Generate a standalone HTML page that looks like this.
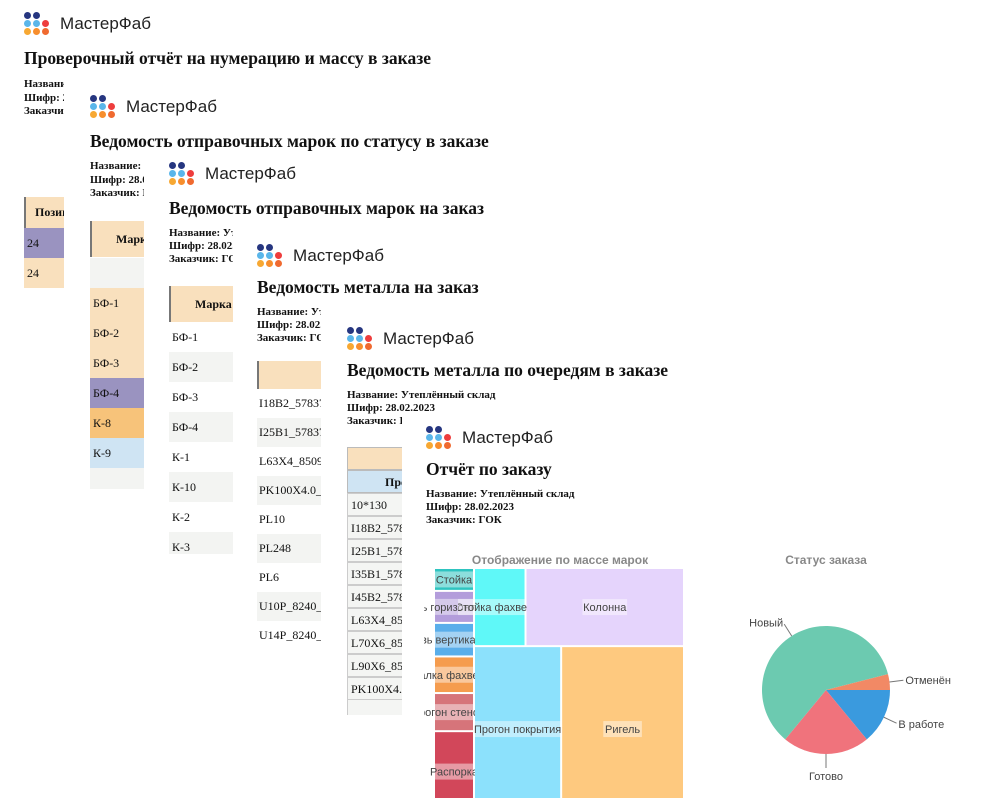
<!DOCTYPE html>
<html><head><meta charset="utf-8">
<style>
html,body{margin:0;padding:0;background:#fff;}
body{width:982px;height:798px;position:relative;overflow:hidden;font-family:"Liberation Serif","Noto Serif CJK SC",serif;color:#111;}
.panel{position:absolute;background:#fff;overflow:hidden;}
.logo{position:absolute;width:130px;height:24px;}
.dot{position:absolute;width:7px;height:7px;border-radius:50%;}
.logo-text{position:absolute;left:36px;top:2px;font-family:"Liberation Sans",sans-serif;font-size:17px;line-height:20px;color:#222;}
.title{position:absolute;font-weight:bold;font-size:17.5px;white-space:nowrap;}
.info{position:absolute;font-weight:bold;font-size:11px;line-height:13.5px;white-space:nowrap;}
.cell{position:absolute;font-size:12px;white-space:nowrap;box-sizing:border-box;overflow:hidden;}
.hdr{background:#f9e0bd;border-left:2px solid #777;font-weight:bold;}
</style></head>
<body>

<div class="panel" style="left:0;top:0;width:982px;height:798px;">
  <div class="logo" style="left:24px;top:12px;">
    <span class="dot" style="left:0;top:0;background:#263680"></span><span class="dot" style="left:9px;top:0;background:#263680"></span>
    <span class="dot" style="left:0;top:8px;background:#5ab6ea"></span><span class="dot" style="left:9px;top:8px;background:#5ab6ea"></span><span class="dot" style="left:18px;top:8px;background:#ee3d3d"></span>
    <span class="dot" style="left:0;top:16px;background:#f7a833"></span><span class="dot" style="left:9px;top:16px;background:#f78e2d"></span><span class="dot" style="left:18px;top:16px;background:#f06a30"></span>
    <span class="logo-text">МастерФаб</span>
  </div>
  <div class="title" style="left:24px;top:48px;">Проверочный отчёт на нумерацию и массу в заказе</div>
  <div class="info" style="left:24px;top:78px;">Название: Утеплённый склад<br>Шифр: 28.02.2023<br>Заказчик: ГОК</div>
  <div class="cell hdr" style="left:24px;top:197px;width:60px;height:31px;line-height:31px;padding-left:9px;">Позиция</div>
  <div class="cell" style="left:24px;top:228px;width:60px;height:30px;line-height:30px;padding-left:3px;background:#9a93c0;">24</div>
  <div class="cell" style="left:24px;top:258px;width:60px;height:30px;line-height:30px;padding-left:3px;background:#f9e0bd;">24</div>
</div>

<div class="panel" style="left:64px;top:78px;width:918px;height:720px;">
  <div class="logo" style="left:26px;top:17px;">
    <span class="dot" style="left:0;top:0;background:#263680"></span><span class="dot" style="left:9px;top:0;background:#263680"></span>
    <span class="dot" style="left:0;top:8px;background:#5ab6ea"></span><span class="dot" style="left:9px;top:8px;background:#5ab6ea"></span><span class="dot" style="left:18px;top:8px;background:#ee3d3d"></span>
    <span class="dot" style="left:0;top:16px;background:#f7a833"></span><span class="dot" style="left:9px;top:16px;background:#f78e2d"></span><span class="dot" style="left:18px;top:16px;background:#f06a30"></span>
    <span class="logo-text">МастерФаб</span>
  </div>
  <div class="title" style="left:26px;top:53px;">Ведомость отправочных марок по статусу в заказе</div>
  <div class="info" style="left:26px;top:82px;">Название: Утеплённый склад<br>Шифр: 28.02.2023<br>Заказчик: ГОК</div>
  <div class="cell hdr" style="left:26px;top:143px;width:80px;height:36px;line-height:36px;padding-left:24px;">Марка</div>
  <div class="cell" style="left:26px;top:180px;width:80px;height:30px;background:#f3f4f2;"></div>
  <div class="cell" style="left:26px;top:210px;width:80px;height:30px;line-height:30px;padding-left:3px;background:#f9e0bd;">БФ-1</div>
  <div class="cell" style="left:26px;top:240px;width:80px;height:30px;line-height:30px;padding-left:3px;background:#f9e0bd;">БФ-2</div>
  <div class="cell" style="left:26px;top:270px;width:80px;height:30px;line-height:30px;padding-left:3px;background:#f9e0bd;">БФ-3</div>
  <div class="cell" style="left:26px;top:300px;width:80px;height:30px;line-height:30px;padding-left:3px;background:#9a93c0;">БФ-4</div>
  <div class="cell" style="left:26px;top:330px;width:80px;height:30px;line-height:30px;padding-left:3px;background:#f7c37a;">К-8</div>
  <div class="cell" style="left:26px;top:360px;width:80px;height:30px;line-height:30px;padding-left:3px;background:#cfe4f3;">К-9</div>
  <div class="cell" style="left:26px;top:390px;width:80px;height:21px;background:#f3f4f2;"></div>
</div>

<div class="panel" style="left:144px;top:153px;width:838px;height:645px;">
  <div class="logo" style="left:25px;top:9px;">
    <span class="dot" style="left:0;top:0;background:#263680"></span><span class="dot" style="left:9px;top:0;background:#263680"></span>
    <span class="dot" style="left:0;top:8px;background:#5ab6ea"></span><span class="dot" style="left:9px;top:8px;background:#5ab6ea"></span><span class="dot" style="left:18px;top:8px;background:#ee3d3d"></span>
    <span class="dot" style="left:0;top:16px;background:#f7a833"></span><span class="dot" style="left:9px;top:16px;background:#f78e2d"></span><span class="dot" style="left:18px;top:16px;background:#f06a30"></span>
    <span class="logo-text">МастерФаб</span>
  </div>
  <div class="title" style="left:25px;top:45px;">Ведомость отправочных марок на заказ</div>
  <div class="info" style="left:25px;top:74px;line-height:13px;">Название: Утеплённый склад<br>Шифр: 28.02.2023<br>Заказчик: ГОК</div>
  <div class="cell hdr" style="left:25px;top:133px;width:80px;height:36px;line-height:36px;padding-left:24px;">Марка</div>
  <div class="cell" style="left:25px;top:169px;width:80px;height:30px;line-height:30px;padding-left:3px;">БФ-1</div>
  <div class="cell" style="left:25px;top:199px;width:80px;height:30px;line-height:30px;padding-left:3px;background:#f3f4f2;">БФ-2</div>
  <div class="cell" style="left:25px;top:229px;width:80px;height:30px;line-height:30px;padding-left:3px;">БФ-3</div>
  <div class="cell" style="left:25px;top:259px;width:80px;height:30px;line-height:30px;padding-left:3px;background:#f3f4f2;">БФ-4</div>
  <div class="cell" style="left:25px;top:289px;width:80px;height:30px;line-height:30px;padding-left:3px;">К-1</div>
  <div class="cell" style="left:25px;top:319px;width:80px;height:30px;line-height:30px;padding-left:3px;background:#f3f4f2;">К-10</div>
  <div class="cell" style="left:25px;top:349px;width:80px;height:30px;line-height:30px;padding-left:3px;">К-2</div>
  <div class="cell" style="left:25px;top:379px;width:80px;height:22px;line-height:30px;padding-left:3px;background:#f3f4f2;">К-3</div>
</div>

<div class="panel" style="left:233px;top:222px;width:749px;height:576px;">
  <div class="logo" style="left:24px;top:22px;">
    <span class="dot" style="left:0;top:0;background:#263680"></span><span class="dot" style="left:9px;top:0;background:#263680"></span>
    <span class="dot" style="left:0;top:8px;background:#5ab6ea"></span><span class="dot" style="left:9px;top:8px;background:#5ab6ea"></span><span class="dot" style="left:18px;top:8px;background:#ee3d3d"></span>
    <span class="dot" style="left:0;top:16px;background:#f7a833"></span><span class="dot" style="left:9px;top:16px;background:#f78e2d"></span><span class="dot" style="left:18px;top:16px;background:#f06a30"></span>
    <span class="logo-text">МастерФаб</span>
  </div>
  <div class="title" style="left:24px;top:55px;">Ведомость металла на заказ</div>
  <div class="info" style="left:24px;top:84px;line-height:13px;">Название: Утеплённый склад<br>Шифр: 28.02.2023<br>Заказчик: ГОК</div>
  <div class="cell hdr" style="left:24px;top:139px;width:90px;height:28px;"></div>
  <div class="cell" style="left:24px;top:167px;width:90px;height:29px;line-height:29px;padding-left:2px;">I18B2_57837_</div>
  <div class="cell" style="left:24px;top:196px;width:90px;height:29px;line-height:29px;padding-left:2px;background:#f3f4f2;">I25B1_57837_</div>
  <div class="cell" style="left:24px;top:225px;width:90px;height:29px;line-height:29px;padding-left:2px;">L63X4_8509_</div>
  <div class="cell" style="left:24px;top:254px;width:90px;height:29px;line-height:29px;padding-left:2px;background:#f3f4f2;">PK100X4.0_3</div>
  <div class="cell" style="left:24px;top:283px;width:90px;height:29px;line-height:29px;padding-left:2px;">PL10</div>
  <div class="cell" style="left:24px;top:312px;width:90px;height:29px;line-height:29px;padding-left:2px;background:#f3f4f2;">PL248</div>
  <div class="cell" style="left:24px;top:341px;width:90px;height:29px;line-height:29px;padding-left:2px;">PL6</div>
  <div class="cell" style="left:24px;top:370px;width:90px;height:29px;line-height:29px;padding-left:2px;background:#f3f4f2;">U10P_8240_9</div>
  <div class="cell" style="left:24px;top:399px;width:90px;height:29px;line-height:29px;padding-left:2px;">U14P_8240_9</div>
</div>

<div class="panel" style="left:321px;top:300px;width:661px;height:498px;">
  <div class="logo" style="left:26px;top:27px;">
    <span class="dot" style="left:0;top:0;background:#263680"></span><span class="dot" style="left:9px;top:0;background:#263680"></span>
    <span class="dot" style="left:0;top:8px;background:#5ab6ea"></span><span class="dot" style="left:9px;top:8px;background:#5ab6ea"></span><span class="dot" style="left:18px;top:8px;background:#ee3d3d"></span>
    <span class="dot" style="left:0;top:16px;background:#f7a833"></span><span class="dot" style="left:9px;top:16px;background:#f78e2d"></span><span class="dot" style="left:18px;top:16px;background:#f06a30"></span>
    <span class="logo-text">МастерФаб</span>
  </div>
  <div class="title" style="left:26px;top:60px;">Ведомость металла по очередям в заказе</div>
  <div class="info" style="left:26px;top:89px;line-height:13px;">Название: Утеплённый склад<br>Шифр: 28.02.2023<br>Заказчик: ГОК</div>
  <div class="cell" style="left:26px;top:147px;width:90px;height:23px;background:#f9e0bd;border:1px solid #bbb;"></div>
  <div class="cell" style="left:26px;top:170px;width:90px;height:23px;line-height:22px;padding-left:37px;background:#cfe4f3;border:1px solid #bbb;font-weight:bold;">Профиль</div>
  <div class="cell" style="left:26px;top:193px;width:90px;height:23px;line-height:22px;padding-left:3px;background:#f4f5f3;border:1px solid #ccc;">10*130</div>
  <div class="cell" style="left:26px;top:216px;width:90px;height:23px;line-height:22px;padding-left:3px;background:#f4f5f3;border:1px solid #ccc;">I18B2_57837</div>
  <div class="cell" style="left:26px;top:239px;width:90px;height:23px;line-height:22px;padding-left:3px;background:#f4f5f3;border:1px solid #ccc;">I25B1_57837</div>
  <div class="cell" style="left:26px;top:262px;width:90px;height:23px;line-height:22px;padding-left:3px;background:#f4f5f3;border:1px solid #ccc;">I35B1_57837</div>
  <div class="cell" style="left:26px;top:285px;width:90px;height:23px;line-height:22px;padding-left:3px;background:#f4f5f3;border:1px solid #ccc;">I45B2_57837</div>
  <div class="cell" style="left:26px;top:308px;width:90px;height:23px;line-height:22px;padding-left:3px;background:#f4f5f3;border:1px solid #ccc;">L63X4_8509</div>
  <div class="cell" style="left:26px;top:331px;width:90px;height:23px;line-height:22px;padding-left:3px;background:#f4f5f3;border:1px solid #ccc;">L70X6_8509</div>
  <div class="cell" style="left:26px;top:354px;width:90px;height:23px;line-height:22px;padding-left:3px;background:#f4f5f3;border:1px solid #ccc;">L90X6_8509</div>
  <div class="cell" style="left:26px;top:377px;width:90px;height:23px;line-height:22px;padding-left:3px;background:#f4f5f3;border:1px solid #ccc;">PK100X4.0_3</div>
  <div class="cell" style="left:26px;top:400px;width:90px;height:15px;background:#f4f5f3;border-left:1px solid #ccc;"></div>
</div>

<div class="panel" style="left:402px;top:415px;width:580px;height:383px;overflow:visible;">
  <div class="logo" style="left:24px;top:11px;">
    <span class="dot" style="left:0;top:0;background:#263680"></span><span class="dot" style="left:9px;top:0;background:#263680"></span>
    <span class="dot" style="left:0;top:8px;background:#5ab6ea"></span><span class="dot" style="left:9px;top:8px;background:#5ab6ea"></span><span class="dot" style="left:18px;top:8px;background:#ee3d3d"></span>
    <span class="dot" style="left:0;top:16px;background:#f7a833"></span><span class="dot" style="left:9px;top:16px;background:#f78e2d"></span><span class="dot" style="left:18px;top:16px;background:#f06a30"></span>
    <span class="logo-text">МастерФаб</span>
  </div>
  <div class="title" style="left:24px;top:44px;">Отчёт по заказу</div>
  <div class="info" style="left:24px;top:73px;line-height:13px;">Название: Утеплённый склад<br>Шифр: 28.02.2023<br>Заказчик: ГОК</div>
  <svg id="charts" width="982" height="798" style="position:absolute;left:-402px;top:-415px;" xmlns="http://www.w3.org/2000/svg" font-family="Liberation Sans, sans-serif">
    <text x="560" y="564" text-anchor="middle" font-size="12" font-weight="bold" fill="#888">Отображение по массе марок</text>
    <text x="826" y="564" text-anchor="middle" font-size="12" font-weight="bold" fill="#888">Статус заказа</text>
    <g id="tm"></g>
    <g id="pie"></g>
  </svg>
</div>

<script>
// Treemap data
const tmLeftLabels = ["Стойка","Связь горизонтальная","Связь вертикальная","Балка фахверка","Прогон стеновой","Распорка"];
const tmLeftValues = [15, 21, 22, 24, 25, 53];
const tmLeftColors = ["#2ec4c0","#b39ddb","#5aaeea","#f59c4e","#d6747a","#d2475a"];
const tmTopLabels = ["Стойка фахверка","Колонна"];
const tmTopValues = [66, 203];
const tmTopColors = ["#5ff8f8","#e5d4fc"];
const tmBotLabels = ["Прогон покрытия","Ригель"];
const tmBotValues = [237, 334];
const tmBotColors = ["#8ce1fc","#fec97f"];
// Pie data
const pieLabels = ["В работе","Готово","Новый","Отменён"];
const pieValues = [14, 22, 60, 4];
const pieColors = ["#3a9ade","#f0737c","#6ccab0","#f28965"];

const NS = "http://www.w3.org/2000/svg";
const tm = document.getElementById("tm");
const sum = a => a.reduce((s,v)=>s+v,0);
const X0=434, X1=684, Y0=568, Y1=812;
let clipId=0;

function cellRect(x,y,w,h,color,label,clipL,clipR){
  const r=document.createElementNS(NS,"rect");
  r.setAttribute("x",x+1);r.setAttribute("y",y+1);
  r.setAttribute("width",Math.max(0,w-2));r.setAttribute("height",Math.max(0,h-2));
  r.setAttribute("fill",color);
  
  
  tm.appendChild(r);
  const cy=Math.min(y+h/2, (y+Math.min(y+h,798))/2+ (y+h>798?8:0));
  const cp=document.createElementNS(NS,"clipPath");
  cp.setAttribute("id","c"+(++clipId));
  const cr=document.createElementNS(NS,"rect");
  cr.setAttribute("x",clipL);cr.setAttribute("y",y);cr.setAttribute("width",clipR-clipL);cr.setAttribute("height",h);
  cp.appendChild(cr);tm.appendChild(cp);
  const g=document.createElementNS(NS,"g");
  g.setAttribute("clip-path","url(#c"+clipId+")");
  const t=document.createElementNS(NS,"text");
  t.setAttribute("x",x+w/2);t.setAttribute("y",cy+4);
  t.setAttribute("text-anchor","middle");t.setAttribute("font-size","11");t.setAttribute("fill","#444");
  t.textContent=label;
  
  
  const tw=label.length*6.1;
  const bg=document.createElementNS(NS,"rect");
  bg.setAttribute("x",x+w/2-tw/2-1);bg.setAttribute("y",cy-8);bg.setAttribute("width",tw+2);bg.setAttribute("height",16);
  bg.setAttribute("fill","#fff");bg.setAttribute("opacity","0.45");
  g.appendChild(bg);g.appendChild(t);tm.appendChild(g);
}

const total = sum(tmLeftValues)+sum(tmTopValues)+sum(tmBotValues);
const W=X1-X0, H=Y1-Y0;
const leftW = W*sum(tmLeftValues)/total;
let yy=Y0;
tmLeftValues.forEach((v,i)=>{
  const h=H*v/sum(tmLeftValues);
  cellRect(X0,yy,leftW,h,tmLeftColors[i],tmLeftLabels[i],X0-10,X0+leftW+2);
  yy+=h;
});
const restW=W-leftW, rx=X0+leftW;
const restTotal=sum(tmTopValues)+sum(tmBotValues);
const topH=H*sum(tmTopValues)/restTotal;
let xx=rx;
tmTopValues.forEach((v,i)=>{
  const w=restW*v/sum(tmTopValues);
  cellRect(xx,Y0,w,topH,tmTopColors[i],tmTopLabels[i],i===0?xx-16:xx,xx+w+1);
  xx+=w;
});
xx=rx;
tmBotValues.forEach((v,i)=>{
  const w=restW*v/sum(tmBotValues);
  cellRect(xx,Y0+topH,w,H-topH,tmBotColors[i],tmBotLabels[i],xx,xx+w);
  xx+=w;
});

// Pie
const pie=document.getElementById("pie");
const cx=826, cy=690, R=64;
const pTot=sum(pieValues);
let a=0;
pieValues.forEach((v,i)=>{
  const a1=a+2*Math.PI*v/pTot;
  const x0=cx+R*Math.cos(a), y0=cy+R*Math.sin(a);
  const x1=cx+R*Math.cos(a1), y1=cy+R*Math.sin(a1);
  const p=document.createElementNS(NS,"path");
  p.setAttribute("d",`M${cx},${cy} L${x0},${y0} A${R},${R} 0 ${a1-a>Math.PI?1:0} 1 ${x1},${y1} Z`);
  p.setAttribute("fill",pieColors[i]);
  
  
  pie.appendChild(p);
  const m=(a+a1)/2, c=Math.cos(m), s=Math.sin(m);
  const l=document.createElementNS(NS,"line");
  l.setAttribute("x1",cx+R*c);l.setAttribute("y1",cy+R*s);
  l.setAttribute("x2",cx+(R+14)*c);l.setAttribute("y2",cy+(R+14)*s);
  l.setAttribute("stroke","#777");l.setAttribute("stroke-width","1");
  
  
  pie.appendChild(l);
  const t=document.createElementNS(NS,"text");
  const tx=cx+(R+16)*c, ty=cy+(R+16)*s;
  t.setAttribute("x",tx);t.setAttribute("y",ty+(s>0.5?10:4));
  t.setAttribute("text-anchor",Math.abs(c)<0.3?"middle":(c>0?"start":"end"));
  t.setAttribute("font-size","11");t.setAttribute("fill","#444");
  t.textContent=pieLabels[i];
  
  
  pie.appendChild(t);
  a=a1;
});
</script>
</body></html>
